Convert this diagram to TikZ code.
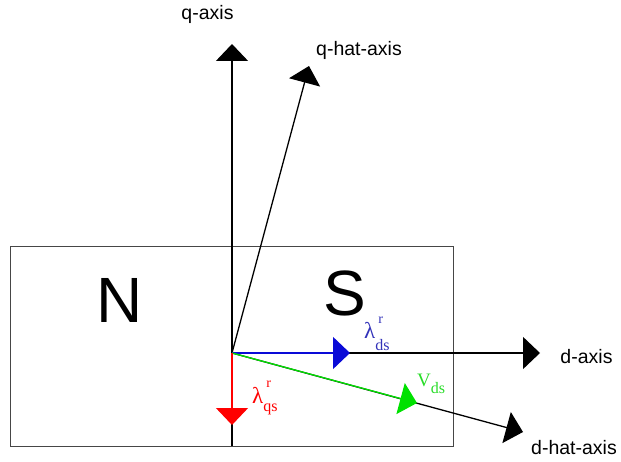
\documentclass[tikz,border=0pt]{standalone}
\usepackage{fontspec}
\setmainfont{Liberation Sans}
\newfontfamily\symserif{Liberation Serif}
\usetikzlibrary{arrows.meta}

\definecolor{vecblue}{RGB}{10,10,215}
\definecolor{lblblue}{RGB}{50,50,185}
\definecolor{vecgreen}{RGB}{0,225,0}
\definecolor{lblgreen}{RGB}{40,220,40}
\definecolor{vecred}{RGB}{255,0,0}
\definecolor{boxgray}{RGB}{70,70,70}

\begin{document}
\begin{tikzpicture}[x=1pt,y=-1pt,
  axisline/.style={line width=1.3pt, -{Triangle[length=17pt,width=32pt]}},
  vecline/.style={line width=1.3pt, -{Triangle[length=17pt,width=32pt]}},
  axlabel/.style={inner sep=0pt, anchor=base, font=\fontsize{19.5}{20}\selectfont},
  pole/.style={inner sep=0pt, font=\fontsize{64}{64}\selectfont},
  symlabel/.style={inner sep=0pt, anchor=base west, font=\symserif\fontsize{23}{23}\selectfont}]
\useasboundingbox (0,0) rectangle (621,462);

% coordinates
\coordinate (O) at (232,353);
\coordinate (qbot) at (232,446);
\coordinate (qtip) at (232,44);
\coordinate (qhtip) at (309,66);
\coordinate (dtip) at (540,353);
\coordinate (dhtip) at (523,432);
\coordinate (btip) at (350,353);
\coordinate (gtip) at (417,403);
\coordinate (rtip) at (232,425);

% magnet
\draw[boxgray, line width=1pt] (10,247) rectangle (453,446);
\node[pole] (N) at (120,300) {N};
\node[pole] (S) at (345,293) {S};

% axes
\draw[axisline] (qbot) -- (qtip);
\draw[axisline] (O) -- (qhtip);
\draw[axisline] (O) -- (dtip);
\draw[axisline] (O) -- (dhtip);

% vectors
\draw[vecline, vecblue] (O) -- (btip);
\draw[vecline, vecgreen] (O) -- (gtip);
\draw[vecline, vecred] (O) -- (rtip);

% axis labels
\node[axlabel] (ql) at (207.5,20) {q-axis};
\node[axlabel] (qhl) at (359,56) {q-hat-axis};
\node[axlabel] (dl) at (586.5,363) {d-axis};
\node[axlabel] (dhl) at (574,454) {d-hat-axis};

% vector labels
\node[symlabel, text=lblblue] (bl) at (364,338)
  {λ\makebox[0pt][l]{\kern3pt\raisebox{15pt}{\fontsize{14}{14}\selectfont r}}\raisebox{-12pt}{\fontsize{16}{16}\selectfont ds}};
\node[symlabel, text=vecred] (rl) at (252,403)
  {λ\makebox[0pt][l]{\kern3pt\raisebox{16pt}{\fontsize{14}{14}\selectfont r}}\raisebox{-8pt}{\fontsize{16}{16}\selectfont qs}};
\node[symlabel, text=lblgreen, font=\symserif\fontsize{19}{19}\selectfont] (gl) at (417,386)
  {V\raisebox{-7pt}{\fontsize{16}{16}\selectfont ds}};
\end{tikzpicture}
\end{document}
